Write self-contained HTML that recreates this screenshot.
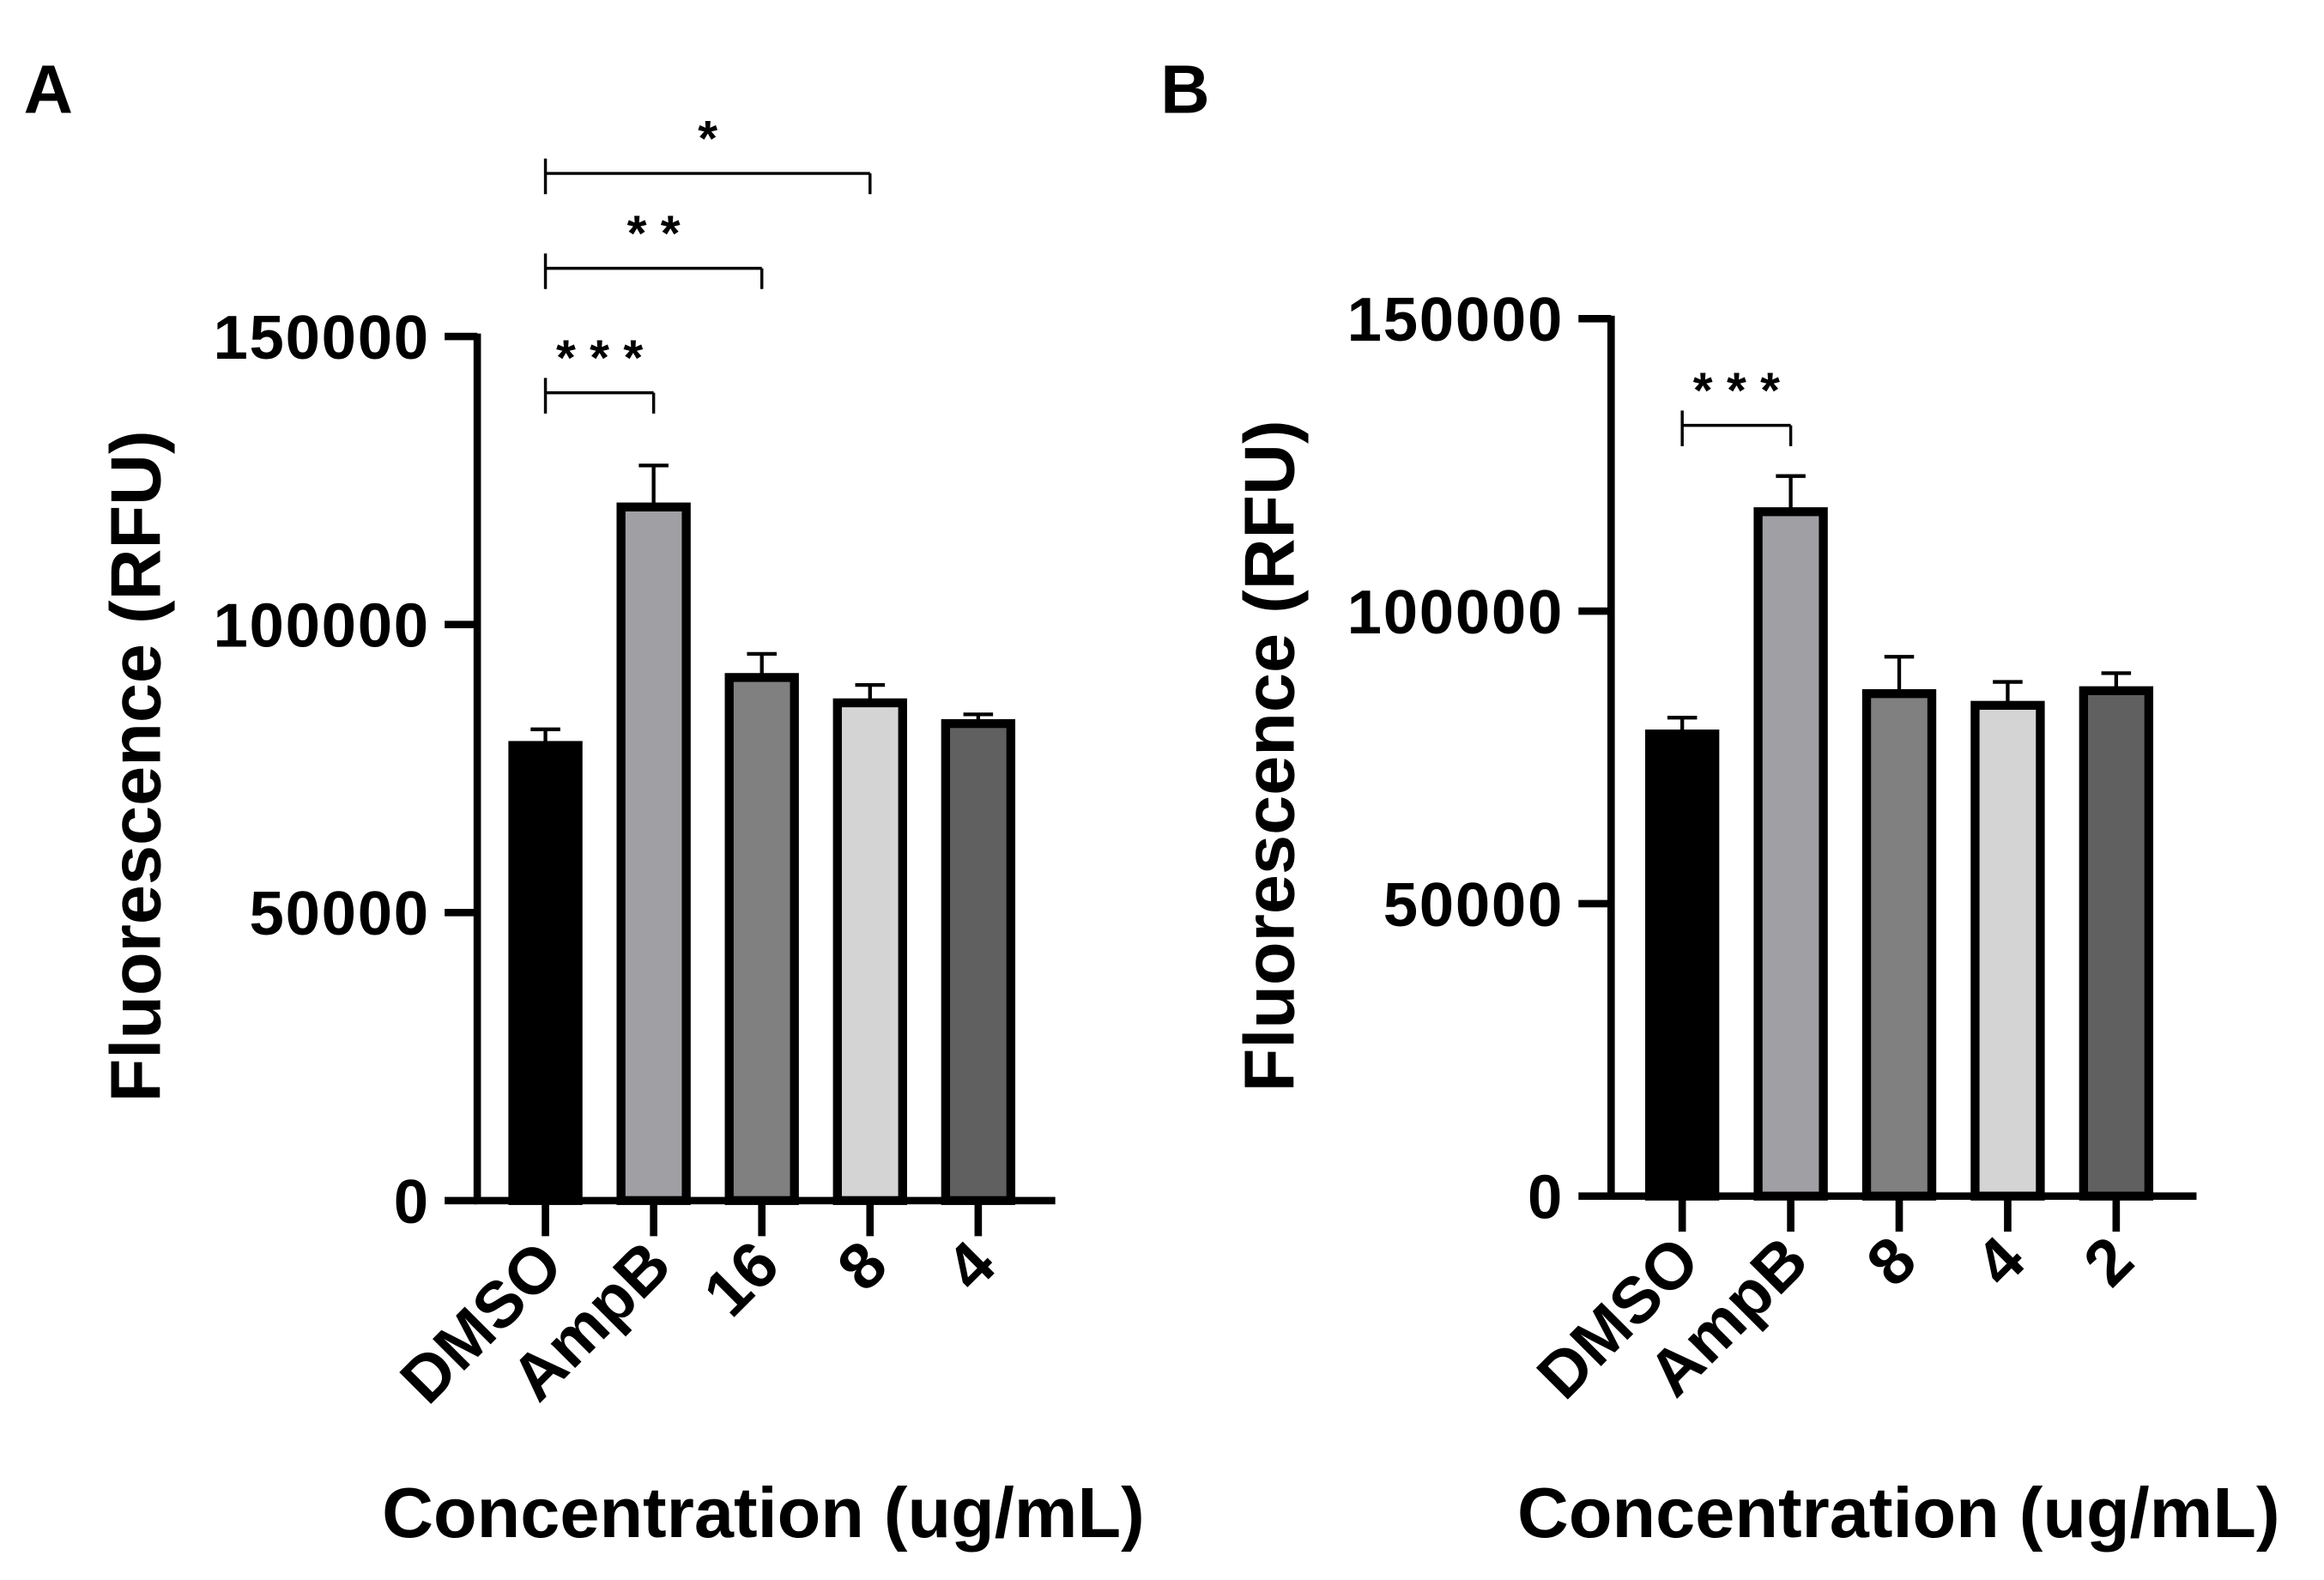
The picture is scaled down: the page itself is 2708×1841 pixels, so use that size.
<!DOCTYPE html>
<html><head><meta charset="utf-8"><style>html,body{margin:0;padding:0;background:#fff}svg{display:block}</style></head>
<body>
<svg id="fig" xmlns="http://www.w3.org/2000/svg" width="2708" height="1841" viewBox="0 0 1568 1066" font-family="Liberation Sans, Arial, sans-serif" font-weight="bold">
<rect width="1568" height="1066" fill="#fff"/>
<text x="16" y="76" font-size="46">A</text>
<text x="783" y="76" font-size="46">B</text>
</svg>
<script>
const catsA = ["DMSO","AmpB","16","8","4"];
const valsA = [79000,120400,90800,86400,82800];
const errA = [81800,127600,94900,89500,84400];
const catsB = ["DMSO","AmpB","8","4","2"];
const valsB = [79000,117000,85900,83900,86400];
const errB = [81800,123100,92200,87900,89400];
const yTicks = [0,50000,100000,150000];
const colors = ["#000000","#a0a0a4","#808080","#d4d4d4","#606060"];
const sigA = [{from:0,to:1,label:"* * *",ly:265},{from:0,to:2,label:"* *",ly:181},{from:0,to:3,label:"*",ly:117}];
const sigB = [{from:0,to:1,label:"* * *",ly:287}];

const NS="http://www.w3.org/2000/svg";
const svg=document.getElementById('fig');
function mk(tag,attrs,parent){const e=document.createElementNS(NS,tag);for(const k in attrs)e.setAttribute(k,attrs[k]);(parent||svg).appendChild(e);return e;}

function panel(id,cfg,cats,vals,errs,sigs){
  const g=mk('g',{});
  
  
  const y=v=>cfg.y0-(v/150000)*(cfg.y0-cfg.y150);
  const x=i=>cfg.x0+i*cfg.step;
  cats.forEach((c,i)=>{
    const bw=44, top=y(vals[i]);
    const b=mk('rect',{x:x(i)-bw/2,y:top,width:bw,height:cfg.y0-top,fill:colors[i],stroke:'#000','stroke-width':6},g);
    
    
    const e=mk('path',{d:`M${x(i)} ${top} V${y(errs[i])} M${x(i)-10} ${y(errs[i])} H${x(i)+10}`,stroke:'#000','stroke-width':2.5,fill:'none'},g);
    
    
    const t=mk('line',{x1:x(i),x2:x(i),y1:cfg.y0,y2:cfg.y0+24,stroke:'#000','stroke-width':5},g);
    
    
    const lx=x(i)+14, ly=cfg.y0+46;
    const l=mk('text',{x:lx,y:ly,'font-size':44,'text-anchor':'end',transform:`rotate(-45 ${lx} ${ly})`},g);
    l.textContent=c;
    
    
  });
  const ax=mk('path',{d:`M${cfg.ax} ${y(150000)-2} V${cfg.y0} H${cfg.xend}`,stroke:'#000','stroke-width':5,fill:'none'},g);
  
  
  yTicks.forEach(v=>{
    const t=mk('line',{x1:cfg.ax-22,x2:cfg.ax,y1:y(v),y2:y(v),stroke:'#000','stroke-width':5},g);
    
    
    const l=mk('text',{x:cfg.ax-32,y:y(v)+15,'font-size':42,'text-anchor':'end','letter-spacing':1},g);
    l.textContent=v;
    
    
  });
  const yt=mk('text',{x:cfg.ytx,y:cfg.yty,'font-size':48,'text-anchor':'middle',transform:`rotate(-90 ${cfg.ytx} ${cfg.yty})`},g);
  yt.textContent='Fluorescence (RFU)';
  
  
  const xt=mk('text',{x:cfg.xtx,y:1037,'font-size':48,'text-anchor':'middle'},g);
  xt.textContent='Concentration (ug/mL)';
  
  
  sigs.forEach(s=>{
    const ly=s.ly, x1=x(s.from), x2=x(s.to);
    const p=mk('path',{d:`M${x1} ${ly-10} V${ly+14} M${x1} ${ly} H${x2} M${x2} ${ly} V${ly+14}`,stroke:'#000','stroke-width':2,fill:'none'},g);
    
    
    const t=mk('text',{x:(x1+x2)/2,y:ly-12,'font-size':34,'text-anchor':'middle'},g);
    t.textContent=s.label;
    
    
  });
}
panel('panel-a',{ax:322,y0:810,y150:227,x0:368,step:73,xend:712,ytx:108,yty:517,xtx:515,sigY:265},catsA,valsA,errA,sigA);
panel('panel-b',{ax:1087,y0:807,y150:215,x0:1135,step:73.2,xend:1482,ytx:873,yty:510,xtx:1281,sigY:287},catsB,valsB,errB,sigB);
</script>
</body></html>
